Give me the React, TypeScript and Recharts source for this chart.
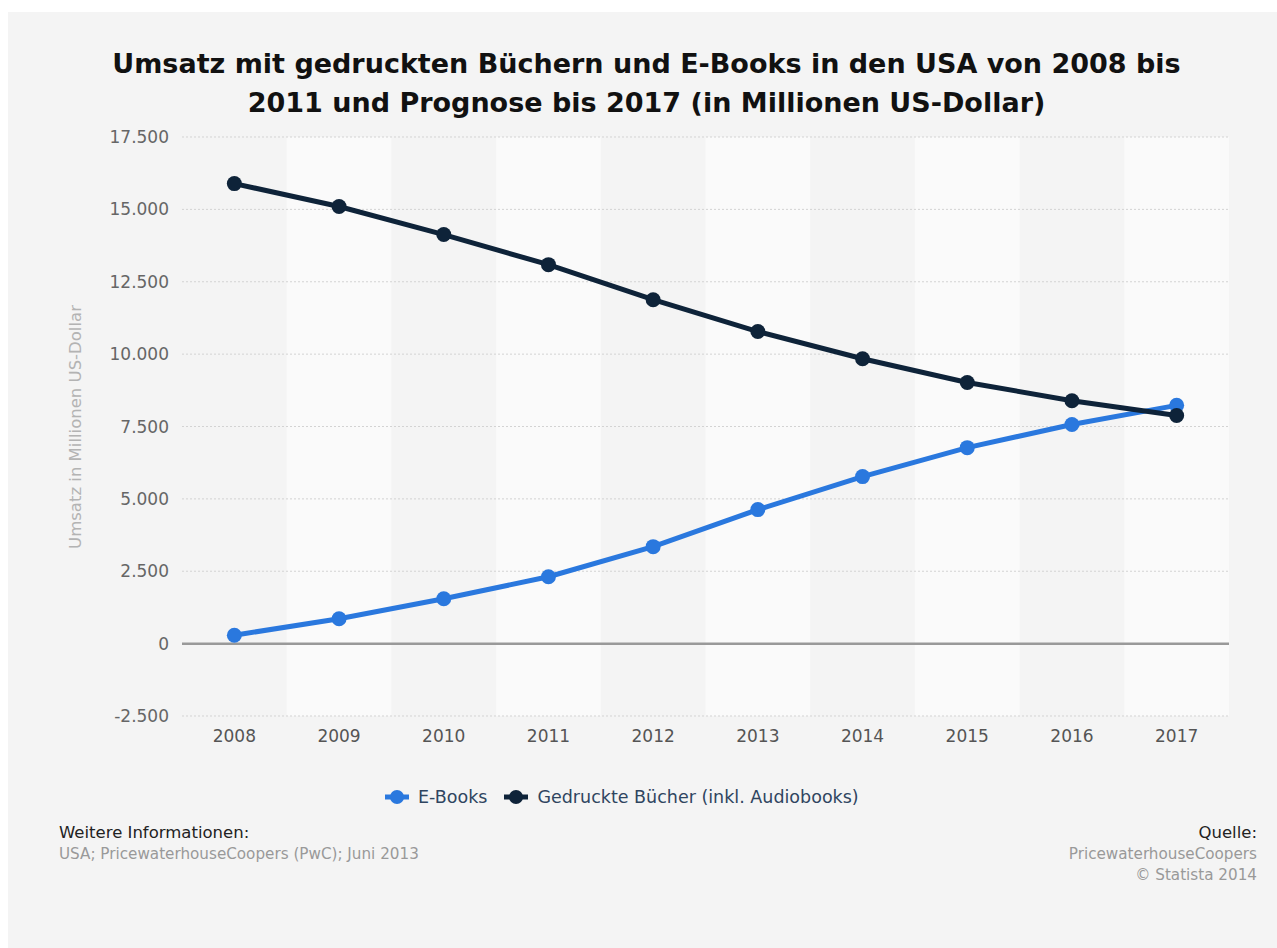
import React from 'react';
import {
  LineChart, Line, XAxis, YAxis, ReferenceArea, ReferenceLine,
} from 'recharts';

const years = ['2008', '2009', '2010', '2011', '2012', '2013', '2014', '2015', '2016', '2017'];
const ebooks = [290, 860, 1550, 2310, 3350, 4630, 5770, 6770, 7570, 8230];
const printed = [15890, 15100, 14130, 13090, 11880, 10780, 9840, 9020, 8390, 7880];
const yTicks = [-2500, 0, 2500, 5000, 7500, 10000, 12500, 15000, 17500];

const seriesNames = ['E-Books', 'Gedruckte Bücher (inkl. Audiobooks)'];
const seriesColors = ['#2a78de', '#0e2339'];

const data = years.map((y, i) => ({ year: y, idx: i + 0.5, ebooks: ebooks[i], printed: printed[i] }));
const bandIdx = years.map((_, i) => i).filter((i) => i % 2 === 1);

const fmt = (v: number) => {
  const neg = v < 0;
  const s = String(Math.abs(v)).replace(/\B(?=(\d{3})+(?!\d))/g, '.');
  return (neg ? '-' : '') + s;
};

const FONT = '"DejaVu Sans", Verdana, sans-serif';

const LegendBox = () => (
  <div
    style={{
      position: 'absolute', left: 385, top: 786, height: 22, display: 'flex',
      alignItems: 'center', fontFamily: FONT, fontSize: 17.5, whiteSpace: 'nowrap',
      color: '#2f4560',
    }}
  >
    {seriesNames.map((n, i) => (
      <div key={n} style={{ display: 'flex', alignItems: 'center', marginRight: i === 0 ? 17 : 0 }}>
        <svg width={24} height={16} style={{ marginRight: 9 }}>
          <line x1={0} y1={8} x2={24} y2={8} stroke={seriesColors[i]} strokeWidth={5} />
          <circle cx={12} cy={8} r={7} fill={seriesColors[i]} />
        </svg>
        <span>{n}</span>
      </div>
    ))}
  </div>
);

export default function App() {
  return (
    <div style={{ position: 'absolute', left: 0, top: 0, width: 1277, height: 948, background: '#ffffff', overflow: 'hidden' }}>
      <div style={{ position: 'absolute', left: 8, top: 12, width: 1269, height: 936, background: '#f4f4f4' }} />
      <div
        style={{
          position: 'absolute', left: 0, top: 44, width: 1293, textAlign: 'center',
          fontFamily: FONT, fontWeight: 'bold', fontSize: 27, lineHeight: '39px', color: '#111',
        }}
      >
        Umsatz mit gedruckten Büchern und E-Books in den USA von 2008 bis
        <br />
        2011 und Prognose bis 2017 (in Millionen US-Dollar)
      </div>
      <div style={{ position: 'absolute', left: 0, top: 0 }}>
        <LineChart width={1277} height={948} data={data} margin={{ top: 137, right: 48, bottom: 202, left: 0 }}>
          <XAxis xAxisId="band" type="number" dataKey="idx" domain={[0, 10]} allowDataOverflow hide />
          {bandIdx.map((i) => (
            <ReferenceArea key={i} xAxisId="band" x1={i} x2={i + 1} y1={-2500} y2={17500} fill="#fafafa" fillOpacity={1} stroke="none" ifOverflow="visible" />
          ))}
          {yTicks.filter((t) => t !== 0).map((t) => (
            <ReferenceLine key={t} y={t} stroke="#d3d3d3" strokeDasharray="2 2" strokeWidth={1} />
          ))}
          <XAxis
            dataKey="year"
            height={30}
            padding={{ left: 52.35, right: 52.35 }}
            axisLine={false}
            tickLine={false}
            tickSize={0}
            tickMargin={14}
            interval={0}
            tick={{ fill: '#555', fontSize: 17, fontFamily: FONT }}
          />
          <YAxis
            width={182}
            domain={[-2500, 17500]}
            ticks={yTicks}
            tickFormatter={fmt}
            axisLine={false}
            tickLine={false}
            tickSize={0}
            tickMargin={13}
            tick={{ fill: '#666', fontSize: 17, fontFamily: FONT }}
            interval={0}
          />
          <ReferenceLine y={0} stroke="#999" strokeWidth={2.5} />
          <Line
            dataKey="ebooks"
            name={seriesNames[0]}
            stroke={seriesColors[0]}
            strokeWidth={5}
            dot={{ r: 7.5, fill: seriesColors[0], stroke: seriesColors[0], strokeWidth: 0 }}
            activeDot={false}
            isAnimationActive={false}
          />
          <Line
            dataKey="printed"
            name={seriesNames[1]}
            stroke={seriesColors[1]}
            strokeWidth={5}
            dot={{ r: 7.5, fill: seriesColors[1], stroke: seriesColors[1], strokeWidth: 0 }}
            activeDot={false}
            isAnimationActive={false}
          />
        </LineChart>
      </div>
      <div
        style={{
          position: 'absolute', left: 75, top: 426.5, transform: 'translate(-50%, -50%) rotate(-90deg)',
          whiteSpace: 'nowrap', fontFamily: FONT, fontSize: 16.5, color: '#b3b3b3',
        }}
      >
        Umsatz in Millionen US-Dollar
      </div>
      <LegendBox />
      <div style={{ position: 'absolute', left: 59, top: 822, fontFamily: FONT, fontSize: 16.5, color: '#222', lineHeight: '21.5px' }}>
        <div>Weitere Informationen:</div>
        <div style={{ color: '#999', fontSize: 15.2 }}>USA; PricewaterhouseCoopers (PwC); Juni 2013</div>
      </div>
      <div style={{ position: 'absolute', right: 20, top: 822, fontFamily: FONT, fontSize: 16.5, color: '#222', lineHeight: '21.5px', textAlign: 'right' }}>
        <div>Quelle:</div>
        <div style={{ color: '#999', fontSize: 15.2 }}>PricewaterhouseCoopers</div>
        <div style={{ color: '#999', fontSize: 15.2 }}>© Statista 2014</div>
      </div>
    </div>
  );
}
